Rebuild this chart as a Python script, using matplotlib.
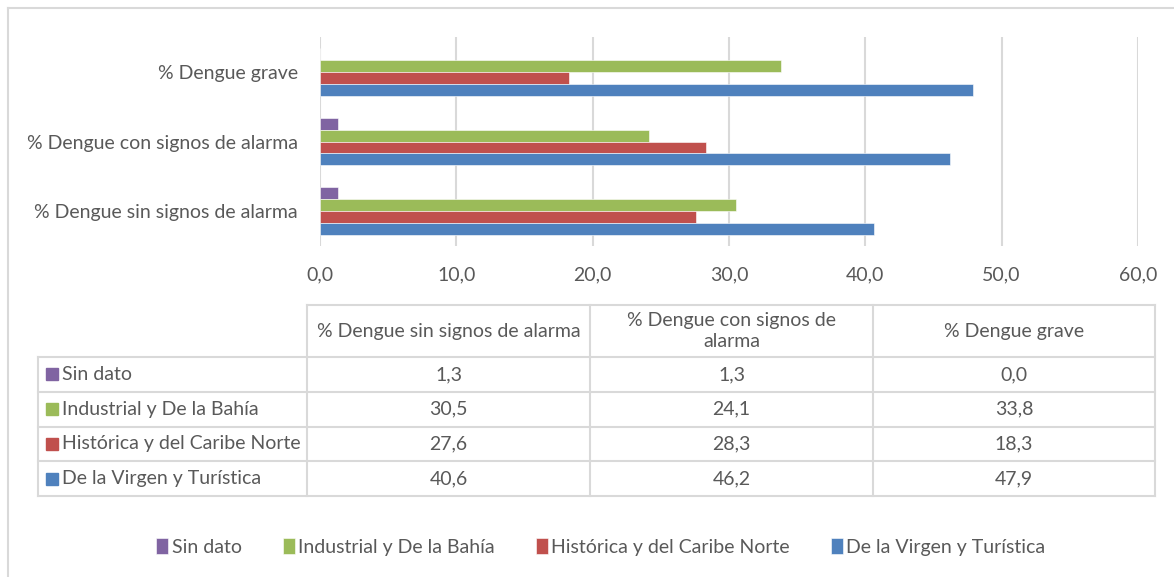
import numpy as np
import matplotlib
matplotlib.use("Agg")
import matplotlib.pyplot as plt
from matplotlib.patches import Rectangle

plt.rcParams["font.family"] = ["Lato", "DejaVu Sans"]

categories = ["% Dengue sin signos de alarma", "% Dengue con signos de alarma", "% Dengue grave"]
header_labels = ["% Dengue sin signos de alarma", "% Dengue con signos de\nalarma", "% Dengue grave"]
series_names = ["Sin dato", "Industrial y De la Bahía", "Histórica y del Caribe Norte", "De la Virgen y Turística"]
sin_dato = [1.3, 1.3, 0.0]
industrial = [30.5, 24.1, 33.8]
historica = [27.6, 28.3, 18.3]
virgen = [40.6, 46.2, 47.9]
colors = ["#8064A2", "#9BBB59", "#C0504D", "#4F81BD"]
xticks = [0, 10, 20, 30, 40, 50, 60]

W, H = 1174, 577
text_color = "#595959"
grid_color = "#D9D9D9"
fs = 14

fig = plt.figure(figsize=(W / 100, H / 100), dpi=100)

# background layer in pixel coords for border and table
bg = fig.add_axes([0, 0, 1, 1])
bg.set_xlim(0, W)
bg.set_ylim(H, 0)
bg.axis("off")
bg.plot([8, W], [8, 8], color=grid_color, lw=1.5)
bg.plot([8, 8], [8, H], color=grid_color, lw=1.5)

# bar chart
ax = fig.add_axes([320 / W, 1 - 246 / H, (1138 - 320) / W, (246 - 37) / H])
y = np.arange(len(categories))
h = 0.172
all_series = [sin_dato, industrial, historica, virgen]
offsets = [1.5, 0.5, -0.5, -1.5]
for vals, c, off, name in zip(all_series, colors, offsets, series_names):
    ax.barh(y + off * h, vals, height=h, color=c, edgecolor="white", linewidth=0.4, label=name, zorder=3)
ax.set_xlim(0, 60)
ax.set_ylim(-0.5, 2.5)
ax.set_xticks(xticks)
ax.set_xticklabels([f"{t:.1f}".replace(".", ",") for t in xticks], color=text_color, fontsize=fs)
ax.set_yticks(y)
ax.set_yticklabels(categories, color=text_color, fontsize=fs)
ax.tick_params(axis="both", length=0)
ax.tick_params(axis="x", pad=15)
ax.tick_params(axis="y", pad=16)
ax.grid(axis="x", color=grid_color, lw=1.5, zorder=0)
for s in ax.spines.values():
    s.set_visible(False)

# data table
col_x = [38, 307, 590, 873, 1155]
head_top, row_top = 305, 357
row_h = 34.8
n_rows = len(series_names)
bottom = row_top + n_rows * row_h
lc = grid_color
bg.plot([col_x[1], col_x[-1]], [head_top, head_top], color=lc, lw=1.5)
for xv in col_x[1:]:
    bg.plot([xv, xv], [head_top, bottom], color=lc, lw=1.5)
bg.plot([col_x[0], col_x[0]], [row_top, bottom], color=lc, lw=1.5)
for i in range(n_rows + 1):
    yy = row_top + i * row_h
    bg.plot([col_x[0], col_x[-1]], [yy, yy], color=lc, lw=1.5)
for j, lab in enumerate(header_labels):
    bg.text((col_x[j + 1] + col_x[j + 2]) / 2, (head_top + row_top) / 2, lab,
            ha="center", va="center", color=text_color, fontsize=fs, linespacing=1.25)
table_rows = [sin_dato, industrial, historica, virgen]
for i, (name, vals, c) in enumerate(zip(series_names, table_rows, colors)):
    cy = row_top + (i + 0.5) * row_h
    bg.add_patch(Rectangle((46, cy - 6), 12, 12, color=c))
    bg.text(62, cy, name, ha="left", va="center", color=text_color, fontsize=fs)
    for j, v in enumerate(vals):
        bg.text((col_x[j + 1] + col_x[j + 2]) / 2, cy, f"{v:.1f}".replace(".", ","),
                ha="center", va="center", color=text_color, fontsize=fs)

# legend
handles, labels = ax.get_legend_handles_labels()
leg = fig.legend(handles, labels, loc="center", bbox_to_anchor=(601 / W, 1 - 547 / H), ncol=4,
                 frameon=False, fontsize=fs, handlelength=0.6, handleheight=0.85,
                 handletextpad=0.2, columnspacing=2.1, labelcolor=text_color)

fig.savefig("out.png", dpi=100)
